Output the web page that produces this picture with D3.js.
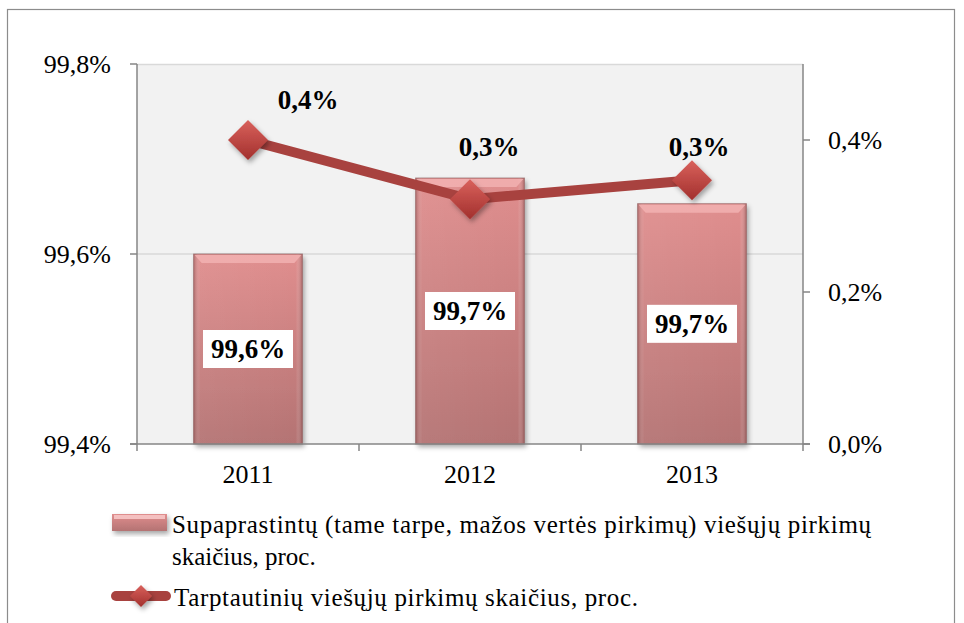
<!DOCTYPE html>
<html><head><meta charset="utf-8">
<script src="https://cdn.jsdelivr.net/npm/d3@7"></script>
<style>body{margin:0;background:#fff}svg{display:block}</style>
</head><body>
<script>
const years = ["2011","2012","2013"];
const simplifiedShare = [99.6, 99.68, 99.653];
const internationalShare = [0.4, 0.322, 0.347];
const leftTicks = [99.4, 99.6, 99.8];
const rightTicks = [0, 0.2, 0.4];
const legendBar = ["Supaprastintų (tame tarpe, mažos vertės pirkimų) viešųjų pirkimų", "skaičius, proc."];
const legendLine = "Tarptautinių viešųjų pirkimų skaičius, proc.";
const lineLabelOffsets = [[60,-40],[19,-53],[7,-34]];

const W=964,H=623;
const FF="'Liberation Serif', 'Times New Roman', serif";
const M={left:137,right:803,top:64,bottom:444};
const loc=d3.formatLocale({decimal:",",thousands:" ",grouping:[3],currency:["","€"]});
const f1=v=>loc.format(".1f")(v)+"%";

const svg=d3.select("body").append("svg").attr("width",W).attr("height",H).attr("font-family",FF);
const defs=svg.append("defs");
const g1=defs.append("linearGradient").attr("id","barG").attr("x1",0).attr("y1",0).attr("x2",0).attr("y2",1);
g1.append("stop").attr("offset","0%").attr("stop-color","#e08e8e");
g1.append("stop").attr("offset","100%").attr("stop-color","#b47373");
const g2=defs.append("linearGradient").attr("id","barH").attr("x1",0).attr("y1",0).attr("x2",1).attr("y2",0);
g2.append("stop").attr("offset","0%").attr("stop-color","#7a3f3f").attr("stop-opacity",0.45);
g2.append("stop").attr("offset","6%").attr("stop-color","#ffffff").attr("stop-opacity",0.05);
g2.append("stop").attr("offset","94%").attr("stop-color","#ffffff").attr("stop-opacity",0.0);
g2.append("stop").attr("offset","100%").attr("stop-color","#7a3f3f").attr("stop-opacity",0.5);
const gd=defs.append("linearGradient").attr("id","diaG").attr("x1",0).attr("y1",0).attr("x2",0).attr("y2",1);
gd.append("stop").attr("offset","0%").attr("stop-color","#d9615c");
gd.append("stop").attr("offset","100%").attr("stop-color","#a2302d");
const sh=defs.append("filter").attr("id","sh").attr("x","-30%").attr("y","-30%").attr("width","160%").attr("height","160%");
sh.append("feDropShadow").attr("dx",2).attr("dy",3).attr("stdDeviation",2.5).attr("flood-color","#000").attr("flood-opacity",0.35);

// outer frame
svg.append("rect").attr("x",7.5).attr("y",9.5).attr("width",947).attr("height",640).attr("fill","none").attr("stroke","#8c8c8c").attr("stroke-width",1.2);

// plot area
svg.append("rect").attr("x",M.left).attr("y",M.top).attr("width",M.right-M.left).attr("height",M.bottom-M.top).attr("fill","#f2f2f2");
svg.append("line").attr("x1",M.left).attr("x2",M.right).attr("y1",M.top+0.5).attr("y2",M.top+0.5).attr("stroke","#d9d9d9").attr("stroke-width",1.5);

const x=d3.scaleBand().domain(years).range([M.left,M.right]).padding(0);
const yL=d3.scaleLinear().domain([99.4,99.8]).range([M.bottom,M.top]);
const yR=d3.scaleLinear().domain([0,0.5]).range([M.bottom,M.top]);

// gridlines
svg.append("g").selectAll("line").data(leftTicks.filter(t=>t>99.4&&t<99.8)).join("line")
 .attr("x1",M.left).attr("x2",M.right).attr("y1",d=>yL(d)).attr("y2",d=>yL(d)).attr("stroke","#d9d9d9").attr("stroke-width",1.5);

// bars
const bw=x.bandwidth()*0.49;
const bars=svg.append("g").selectAll("g").data(years).join("g");
bars.append("rect").attr("x",d=>x(d)+x.bandwidth()/2-bw/2).attr("y",(d,i)=>yL(simplifiedShare[i]))
 .attr("width",bw).attr("height",(d,i)=>M.bottom-yL(simplifiedShare[i])).attr("fill","url(#barG)").attr("filter","url(#sh)");
bars.append("rect").attr("x",d=>x(d)+x.bandwidth()/2-bw/2).attr("y",(d,i)=>yL(simplifiedShare[i]))
 .attr("width",bw).attr("height",(d,i)=>M.bottom-yL(simplifiedShare[i])).attr("fill","url(#barH)")
 .attr("stroke","#8a5c5c").attr("stroke-opacity",0.6).attr("stroke-width",1);
bars.append("path").attr("d",(d,i)=>{const x0=x(d)+x.bandwidth()/2-bw/2,y0=yL(simplifiedShare[i]);return `M${x0+1},${y0+1}H${x0+bw-1}l-7,8H${x0+8}Z`;})
 .attr("fill","#f2b2b2").attr("opacity",0.85);

// axes
const axCol="#868686";
svg.append("line").attr("x1",M.left).attr("x2",M.left).attr("y1",M.top).attr("y2",M.bottom).attr("stroke",axCol).attr("stroke-width",1.5);
svg.append("line").attr("x1",M.right).attr("x2",M.right).attr("y1",M.top).attr("y2",M.bottom).attr("stroke",axCol).attr("stroke-width",1.5);
svg.append("line").attr("x1",M.left-7).attr("x2",M.right+7).attr("y1",M.bottom).attr("y2",M.bottom).attr("stroke",axCol).attr("stroke-width",1.5);
svg.append("g").selectAll("line").data(leftTicks).join("line").attr("x1",M.left-7).attr("x2",M.left).attr("y1",d=>yL(d)).attr("y2",d=>yL(d)).attr("stroke",axCol).attr("stroke-width",1.5);
svg.append("g").selectAll("line").data(rightTicks).join("line").attr("x1",M.right).attr("x2",M.right+7).attr("y1",d=>yR(d)).attr("y2",d=>yR(d)).attr("stroke",axCol).attr("stroke-width",1.5);
const xb=[M.left,...years.map(d=>x(d)+x.bandwidth())];
svg.append("g").selectAll("line").data(xb).join("line").attr("x1",d=>d).attr("x2",d=>d).attr("y1",M.bottom).attr("y2",M.bottom+7).attr("stroke",axCol).attr("stroke-width",1.5);

svg.append("g").selectAll("text").data(leftTicks).join("text").attr("x",111).attr("y",d=>yL(d)).attr("dy","0.34em")
 .attr("text-anchor","end").attr("font-size",26).attr("font-family",FF).text(d=>loc.format(".1f")(d)+"%");
svg.append("g").selectAll("text").data(rightTicks).join("text").attr("x",828).attr("y",d=>yR(d)).attr("dy","0.34em")
 .attr("font-size",26).attr("font-family",FF).text(d=>f1(d*1));
svg.append("g").selectAll("text").data(years).join("text").attr("x",d=>x(d)+x.bandwidth()/2).attr("y",483)
 .attr("text-anchor","middle").attr("font-size",26).attr("font-family",FF).text(d=>d);

// line
const line=d3.line().x((d,i)=>x(years[i])+x.bandwidth()/2).y(d=>yR(d));
svg.append("path").datum(internationalShare).attr("d",line).attr("fill","none").attr("stroke","#a8423f").attr("stroke-width",10).attr("stroke-linejoin","round");
const dia=s=>`M0,${-s}L${s},0L0,${s}L${-s},0Z`;
svg.append("g").selectAll("path").data(internationalShare).join("path")
 .attr("transform",(d,i)=>`translate(${x(years[i])+x.bandwidth()/2},${yR(d)})`).attr("d",dia(20)).attr("fill","url(#diaG)").attr("filter","url(#sh)");

// bar labels
bars.each(function(d,i){
  const gg=d3.select(this);
  const cx=x(d)+x.bandwidth()/2, cy=(yL(simplifiedShare[i])+M.bottom)/2;
  gg.append("rect").attr("x",cx-45).attr("y",cy-19).attr("width",90).attr("height",38).attr("fill","#fff");
  gg.append("text").attr("x",cx).attr("y",cy).attr("dy","0.35em").attr("text-anchor","middle").attr("font-size",27).attr("font-weight","bold").attr("font-family",FF).text(f1(simplifiedShare[i]));
});
// line labels
svg.append("g").selectAll("text").data(internationalShare).join("text")
 .attr("x",(d,i)=>x(years[i])+x.bandwidth()/2+lineLabelOffsets[i][0]).attr("y",(d,i)=>yR(d)+lineLabelOffsets[i][1])
 .attr("dy","0.35em").attr("text-anchor","middle").attr("font-size",27).attr("font-weight","bold").attr("font-family",FF).text(d=>f1(d));

// legend
const lg=svg.append("g");
lg.append("rect").attr("x",112).attr("y",514).attr("width",55).attr("height",17).attr("fill","url(#barG)").attr("filter","url(#sh)");
lg.append("rect").attr("x",114).attr("y",515).attr("width",51).attr("height",4).attr("fill","#f4c0c0");
lg.append("text").attr("x",172).attr("y",533).attr("font-size",25).attr("font-family",FF)
 .attr("textLength",699).attr("lengthAdjust","spacing").text(legendBar[0]);
lg.append("text").attr("x",172).attr("y",565).attr("font-size",25).attr("font-family",FF).text(legendBar[1]);
lg.append("line").attr("x1",116).attr("x2",166).attr("y1",596).attr("y2",596).attr("stroke","#a8423f").attr("stroke-width",10).attr("stroke-linecap","round");
lg.append("path").attr("transform","translate(141,596)").attr("d",dia(11)).attr("fill","url(#diaG)").attr("filter","url(#sh)");
lg.append("text").attr("x",174).attr("y",606).attr("font-size",25).attr("font-family",FF).attr("textLength",464).attr("lengthAdjust","spacing").text(legendLine);
</script>
</body></html>
